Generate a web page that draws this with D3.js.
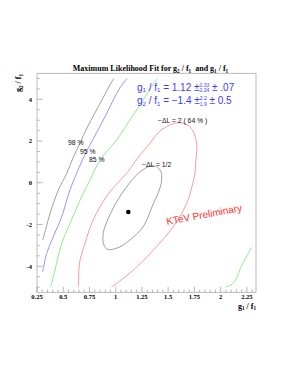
<!doctype html>
<html>
<head>
<style>
body { margin: 0; background: white; }
svg { display: block; }
text { white-space: pre; }
</style>
</head>
<body>
<svg width="302" height="390" id="chart"></svg>
<script src="https://d3js.org/d3.v7.min.js"></script>
<script>
// contour points, [g1/f1, g2/f1]
var contour98 = [[0.304,-2.75],[0.336,-2.17],[0.374,-1.47],[0.453,-0.35],[0.533,0.45],[0.593,1.19],[0.660,1.91],[0.726,2.63],[0.802,3.35],[0.879,4.07],[0.945,4.69],[0.983,5.0]];
var contour95 = [[0.304,-4.27],[0.342,-3.39],[0.405,-2.59],[0.485,-1.63],[0.564,-0.35],[0.621,0.37],[0.691,1.19],[0.755,1.81],[0.831,2.53],[0.907,3.25],[0.977,3.97],[1.040,4.55],[1.107,5.0]];
var contour85 = [[0.380,-5.0],[0.421,-4.19],[0.485,-2.91],[0.564,-1.95],[0.660,-0.83],[0.755,0.13],[0.850,1.09],[1.009,2.05],[1.136,3.01],[1.262,3.97],[1.345,4.64],[1.395,5.0]];
var contour85b = [[2.045,-5.0],[2.120,-4.82],[2.202,-3.95],[2.295,-3.1]];
var contour64 = [[0.645,-5.0],[0.647,-4.43],[0.660,-3.71],[0.707,-2.91],[0.771,-1.95],[0.869,-0.99],[0.974,-0.25],[1.104,0.45],[1.231,1.33],[1.326,1.89],[1.402,2.39],[1.485,2.69],[1.596,2.88],[1.688,2.77],[1.745,2.39],[1.774,1.73],[1.764,1.09],[1.755,0.45],[1.717,-0.35],[1.676,-0.99],[1.548,-2.11],[1.358,-3.23],[1.167,-4.19],[0.960,-5.0]];
var contour50 = [[1.326,0.80],[1.390,0.77],[1.431,0.53],[1.438,0.13],[1.415,-0.35],[1.358,-1.00],[1.262,-2.11],[1.152,-2.67],[1.040,-3.07],[0.929,-3.20],[0.888,-2.99],[0.881,-2.43],[0.929,-1.71],[1.009,-0.91],[1.104,-0.19],[1.215,0.45]];
var bestFit = [1.12, -1.4];
var xTicks = [0.25, 0.5, 0.75, 1, 1.25, 1.5, 1.75, 2, 2.25];
var xTickLabels = ["0.25","0.5","0.75","1","1.25","1.5","1.75","2","2.25"];
var yTicks = [-4, -2, 0, 2, 4];
var pctLabels = ["98 %", "95 %", "85 %"];

var svg = d3.select("#chart");
var serif = "Liberation Serif, Times New Roman, serif";
var sans = "Liberation Sans, Arial, sans-serif";

var x = d3.scaleLinear().domain([0.25, 2.337]).range([37, 256]);
var y = d3.scaleLinear().domain([-5.25, 5.25]).range([292.3, 73.3]);

// frame
svg.append("rect").attr("x", 37).attr("y", 73.3).attr("width", 219).attr("height", 219)
  .attr("fill", "none").attr("stroke", "#aaa").attr("stroke-width", 0.8);

// ticks (inside)
var xMinor = d3.range(0.25, 2.3401, 0.05);
svg.append("g").selectAll("line").data(xMinor).join("line")
  .attr("x1", d => x(d)).attr("x2", d => x(d))
  .attr("y1", 292.3).attr("y2", d => Math.abs(d*4 - Math.round(d*4)) < 1e-6 ? 286.8 : 289.5)
  .attr("stroke", "#999").attr("stroke-width", 0.7);
var yMinor = d3.range(-5, 5.001, 0.5);
svg.append("g").selectAll("line").data(yMinor).join("line")
  .attr("y1", d => y(d)).attr("y2", d => y(d))
  .attr("x1", 37).attr("x2", d => Math.abs(d % 2) < 1e-6 ? 42.5 : 39.8)
  .attr("stroke", "#999").attr("stroke-width", 0.7);

svg.append("g").selectAll("text").data(xTicks).join("text")
  .attr("x", d => x(d)).attr("y", 299).attr("text-anchor", "middle")
  .attr("font-family", serif).attr("font-weight", "bold").attr("font-size", 6.5)
  .text((d, i) => xTickLabels[i]);
svg.append("g").selectAll("text").data(yTicks).join("text")
  .attr("x", 32).attr("y", d => y(d) + 2.3).attr("text-anchor", "end")
  .attr("font-family", serif).attr("font-weight", "bold").attr("font-size", 6.5)
  .text(d => d);

// contours
var openLine = d3.line().x(d => x(d[0])).y(d => y(d[1])).curve(d3.curveCatmullRom);
var loopLine = d3.line().x(d => x(d[0])).y(d => y(d[1])).curve(d3.curveCatmullRomClosed);
[[contour98, "#888"], [contour95, "#7a7aff"], [contour85, "#6ee86e"], [contour85b, "#6ee86e"], [contour64, "#ff8080"]]
  .forEach(function(c) {
    svg.append("path").attr("d", openLine(c[0])).attr("fill", "none")
      .attr("stroke", c[1]).attr("stroke-width", 0.8);
  });
svg.append("path").attr("d", loopLine(contour50)).attr("fill", "none")
  .attr("stroke", "#888").attr("stroke-width", 0.8);

svg.append("circle").attr("cx", x(bestFit[0])).attr("cy", y(bestFit[1])).attr("r", 2.3).attr("fill", "black");

// rich text helper: pieces placed one after another
function rich(g, x0, y0, pieces, base, attrs) {
  var cx = x0, lastStart = x0, lastW = 0;
  pieces.forEach(function(p) {
    var px = p.under ? lastStart : cx;
    var t = g.append("text").attr("x", px).attr("y", y0 + (p.dy || 0))
      .attr("font-size", base * (p.s || 1)).text(p.t);
    for (var k in attrs) t.attr(k, attrs[k]);
    var w = t.node().getComputedTextLength();
    if (p.under) { cx = lastStart + Math.max(lastW, w); }
    else { lastStart = px; lastW = w; cx = px + w; }
  });
  return cx - x0;
}

// title
var tg = svg.append("g");
var tw = rich(tg, 0, 71, [
  {t: "Maximum Likelihood Fit for g"}, {t: "2", s: 0.65, dy: 1.8}, {t: " / f"}, {t: "1", s: 0.65, dy: 1.8},
  {t: "  and g"}, {t: "1", s: 0.65, dy: 1.8}, {t: " / f"}, {t: "1", s: 0.65, dy: 1.8}
], 8, {"font-family": serif, "font-weight": "bold"});
tg.attr("transform", "translate(" + (150.5 - tw / 2) + ",0)");

// axis titles
var xg = svg.append("g");
var xw = rich(xg, 0, 308.5, [{t: "g"}, {t: "1", s: 0.65, dy: 1.8}, {t: " / f"}, {t: "1", s: 0.65, dy: 1.8}],
  8, {"font-family": serif, "font-weight": "bold"});
xg.attr("transform", "translate(" + (256 - xw) + ",0)");
var yg = svg.append("g");
var yw = rich(yg, 0, 0, [{t: "g"}, {t: "2", s: 0.65, dy: 1.8}, {t: " / f"}, {t: "1", s: 0.65, dy: 1.8}],
  8, {"font-family": serif, "font-weight": "bold"});
yg.attr("transform", "translate(21," + (74 + yw) + ") rotate(-90)");

// results
var blue = {"font-family": sans, "fill": "#3b3bff"};
var r1 = svg.append("g");
rich(r1, 137, 90.5, [
  {t: "g"}, {t: "1", s: 0.6, dy: 1.5}, {t: " / f"}, {t: "1", s: 0.6, dy: 1.5}, {t: " = 1.12 \u00b1"},
  {t: "0.33", s: 0.5, dy: -3.6}, {t: "0.24", s: 0.5, dy: 1.8, under: true}, {t: " \u00b1 .07"}
], 10, blue);
var r2 = svg.append("g");
rich(r2, 137, 104, [
  {t: "g"}, {t: "2", s: 0.6, dy: 1.5}, {t: " / f"}, {t: "1", s: 0.6, dy: 1.5}, {t: " = \u22121.4 \u00b1"},
  {t: "2.2", s: 0.5, dy: -3.6}, {t: "1.9", s: 0.5, dy: 1.8, under: true}, {t: " \u00b1 0.5"}
], 10, blue);

// contour labels
var small = {"font-family": sans, "font-size": 6.8, "fill": "#111"};
function label(tx, lx, ly) {
  var t = svg.append("text").attr("x", lx).attr("y", ly).text(tx);
  for (var k in small) t.attr(k, small[k]);
}
label("\u2212\u0394L = 2 ( 64 % )", 158, 122.5);
label("\u2212\u0394L = 1/2", 142, 167);
label(pctLabels[0], 68, 145);
label(pctLabels[1], 80, 153.5);
label(pctLabels[2], 89, 162);

svg.append("text").attr("transform", "translate(167,225) rotate(-10.5)")
  .attr("font-family", sans).attr("font-size", 10).attr("fill", "#ff3030")
  .text("KTeV Preliminary");
</script>
</body>
</html>
